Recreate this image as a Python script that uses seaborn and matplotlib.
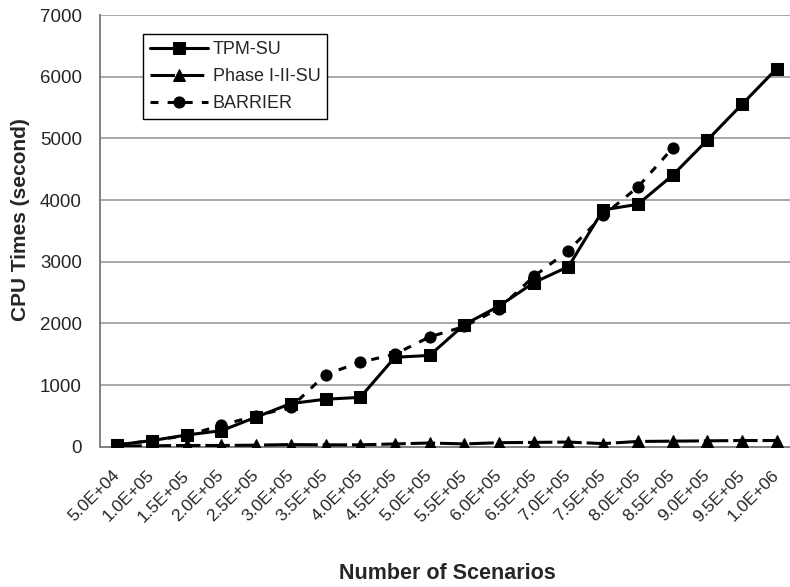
import numpy as np
import pandas as pd
import matplotlib
matplotlib.use("Agg")
import matplotlib.pyplot as plt
import seaborn as sns

# Scenario counts (category axis labels)
scenario_labels = ["5.0E+04", "1.0E+05", "1.5E+05", "2.0E+05", "2.5E+05",
                   "3.0E+05", "3.5E+05", "4.0E+05", "4.5E+05", "5.0E+05",
                   "5.5E+05", "6.0E+05", "6.5E+05", "7.0E+05", "7.5E+05",
                   "8.0E+05", "8.5E+05", "9.0E+05", "9.5E+05", "1.0E+06"]

# CPU times in seconds
tpm_su = [30, 100, 190, 260, 480, 700, 770, 800, 1450, 1480,
          1980, 2280, 2660, 2920, 3840, 3930, 4400, 4970, 5550, 6130]
phase_su = [10, 15, 20, 20, 25, 35, 30, 30, 45, 60,
            45, 65, 70, 75, 50, 85, 90, 95, 100, 100]
barrier = [30, 100, 180, 350, 500, 640, 1170, 1370, 1500, 1780,
           1950, 2240, 2760, 3180, 3750, 4210, 4840]

series_names = ["TPM-SU", "Phase I-II-SU", "BARRIER"]

rows = []
for name, vals in zip(series_names, [tpm_su, phase_su, barrier]):
    for i, v in enumerate(vals):
        rows.append({"idx": i, "cpu": v, "series": name})
df = pd.DataFrame(rows)

sns.set_theme(style="white")
plt.rcParams["font.family"] = ["Liberation Sans", "DejaVu Sans"]

W, H = 790, 587
fig = plt.figure(figsize=(W / 100, H / 100), dpi=100)
ax_left, ax_bottom, ax_w, ax_h = 100, H - 446.7, 694, 431.7
ax = fig.add_axes([ax_left / W, ax_bottom / H, ax_w / W, ax_h / H])

sns.lineplot(
    data=df, x="idx", y="cpu", style="series", hue="series",
    hue_order=series_names, style_order=series_names,
    palette=["black", "black", "black"],
    markers={"TPM-SU": "s", "Phase I-II-SU": "^", "BARRIER": "o"},
    dashes={"TPM-SU": "", "Phase I-II-SU": (8, 1.6), "BARRIER": (2.6, 3)},
    markersize=8, linewidth=2.2, markeredgecolor="black",
    ax=ax, zorder=3,
)

ax.set_xlim(-0.5, 19.5)
ax.set_ylim(0, 7000)
ax.set_yticks(np.arange(0, 7001, 1000))
ax.yaxis.grid(True, color="#a8a8a8", linewidth=1.4)
ax.set_axisbelow(True)

ax.set_xticks(np.arange(len(scenario_labels)))
ax.set_xticklabels(scenario_labels, rotation=45, ha="right", va="center",
                   rotation_mode="anchor", fontsize=12.5)
ax.set_xticks(np.arange(-0.5, 20, 1), minor=True)
ax.tick_params(axis="x", which="major", length=0, pad=19)
ax.tick_params(axis="x", which="minor", length=5, color="#808080", width=1)
ax.tick_params(axis="y", length=5, color="#808080", width=1, labelsize=13.5, pad=8)

for side in ["top", "right"]:
    ax.spines[side].set_visible(False)
for side in ["left", "bottom"]:
    ax.spines[side].set_color("#808080")
    ax.spines[side].set_linewidth(1.4)

ax.set_xlabel("Number of Scenarios", fontsize=15.5, fontweight="bold")
ax.set_ylabel("CPU Times (second)", fontsize=15, fontweight="bold")
ax.xaxis.set_label_coords(0.5, (446.7 - 563) / ax_h)
ax.yaxis.set_label_coords((30 - ax_left) / ax_w, (446.7 - 220) / ax_h)

leg = ax.legend(loc="upper left",
                bbox_to_anchor=((143 - ax_left) / ax_w, (446.7 - 34) / ax_h),
                borderaxespad=0, frameon=True, fancybox=False, fontsize=13,
                handlelength=3.2, borderpad=0.4, labelspacing=0.55,
                handletextpad=0.25)
leg.get_frame().set_edgecolor("black")
leg.get_frame().set_linewidth(1.0)
leg.get_frame().set_facecolor("white")
leg.get_frame().set_alpha(1.0)

fig.savefig("out.png", dpi=100)
